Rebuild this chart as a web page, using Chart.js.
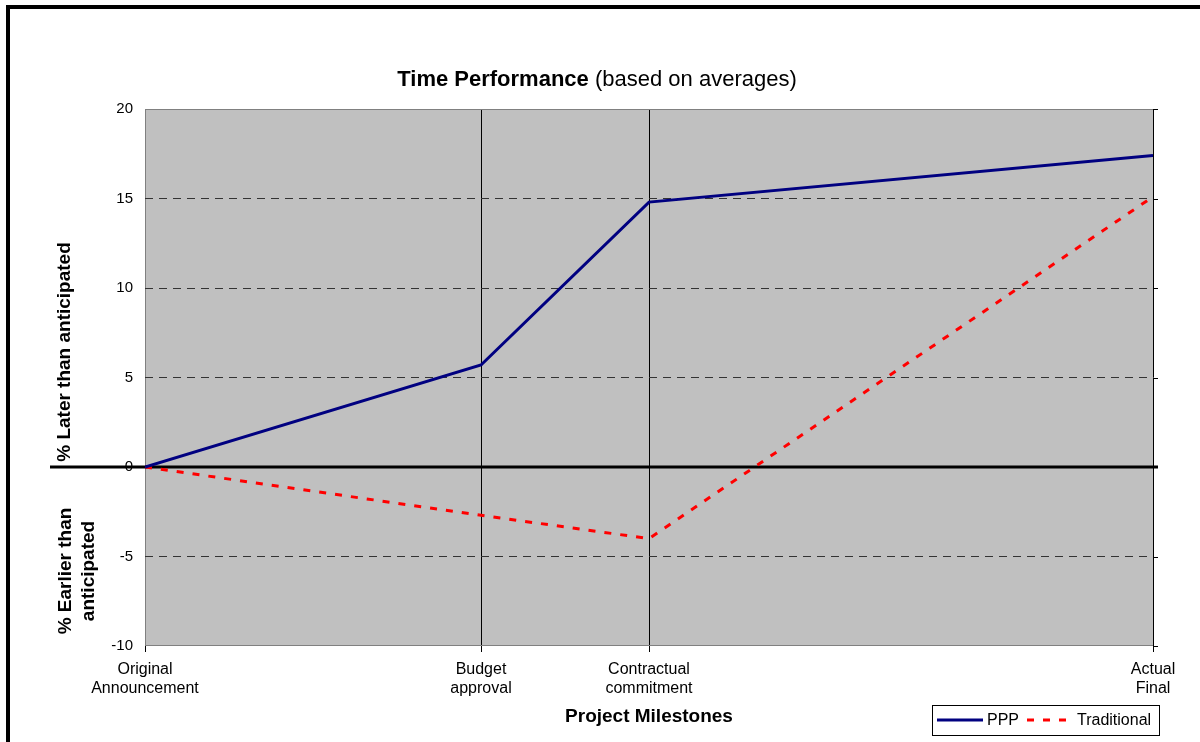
<!DOCTYPE html>
<html lang="en">
  <head>
    <meta charset="UTF-8" />
    <title>Time Performance</title>
    <style>
      body {
        margin: 0;
        background-color: white;
        overflow: hidden;
      }
      .chart-container {
        position: relative;
        width: 1200px;
        height: 742px;
      }
    </style>
    <script src="https://cdn.jsdelivr.net/npm/chart.js@4.4.0/dist/chart.umd.min.js"></script>
  </head>
  <body>
    <div class="chart-container">
      <canvas id="timeChart"></canvas>
    </div>

    <script>
      // Milestones (position along the project, label under the axis)
      const milestoneX = [0, 2, 3, 6];
      const milestoneLabels = [
        ["Original", "Announcement"],
        ["Budget", "approval"],
        ["Contractual", "commitment"],
        ["Actual", "Final"],
      ];
      // % later (+) / earlier (-) than anticipated
      const pppValues = [0, 5.7, 14.8, 17.4];
      const traditionalValues = [0, -2.7, -4.0, 15.1];
      const yTicks = [-10, -5, 0, 5, 10, 15, 20];

      const FONT = '"Liberation Sans", Arial, sans-serif';

      // plot background, frame, zero line
      const framePlugin = {
        id: "frame",
        beforeDraw(chart) {
          const { ctx, chartArea: a } = chart;
          ctx.save();
          ctx.fillStyle = "#c0c0c0";
          ctx.fillRect(a.left, a.top, a.right - a.left, a.bottom - a.top);
          // outer black border
          ctx.strokeStyle = "#000";
          ctx.lineWidth = 4;
          ctx.strokeRect(8, 7, chart.width + 20, chart.height + 20);
          ctx.restore();
        },
        beforeDatasetsDraw(chart) {
          const { ctx, chartArea: a, scales } = chart;
          ctx.save();
          ctx.strokeStyle = "#808080";
          ctx.lineWidth = 1;
          ctx.beginPath();
          ctx.moveTo(a.left, a.top + 0.5);
          ctx.lineTo(a.right, a.top + 0.5);
          ctx.moveTo(a.left, a.bottom - 0.5);
          ctx.lineTo(a.right, a.bottom - 0.5);
          ctx.stroke();
          // small ticks on the right edge
          ctx.strokeStyle = "#000";
          ctx.beginPath();
          scales.y.ticks.forEach((t) => {
            const y = Math.round(scales.y.getPixelForValue(t.value)) + 0.5;
            ctx.moveTo(a.right, y);
            ctx.lineTo(a.right + 5, y);
          });
          ctx.stroke();
          // zero line
          const y0 = scales.y.getPixelForValue(0);
          ctx.lineWidth = 3;
          ctx.beginPath();
          ctx.moveTo(50, y0);
          ctx.lineTo(a.right + 5, y0);
          ctx.stroke();
          ctx.restore();
        },
        afterDraw(chart) {
          const { ctx } = chart;
          ctx.save();
          // title
          ctx.fillStyle = "#000";
          ctx.textBaseline = "alphabetic";
          ctx.font = "bold 22px " + FONT;
          const t1 = "Time Performance";
          const w1 = ctx.measureText(t1).width;
          ctx.font = "22px " + FONT;
          const t2 = " (based on averages)";
          const w2 = ctx.measureText(t2).width;
          let x = 597 - (w1 + w2) / 2;
          ctx.font = "bold 22px " + FONT;
          ctx.textAlign = "left";
          ctx.fillText(t1, x, 86);
          ctx.font = "22px " + FONT;
          ctx.fillText(t2, x + w1, 86);

          // y axis titles
          ctx.font = "bold 19px " + FONT;
          ctx.textAlign = "center";
          ctx.textBaseline = "middle";
          ctx.save();
          ctx.translate(65, 352);
          ctx.rotate(-Math.PI / 2);
          ctx.fillText("% Later than anticipated", 0, 0);
          ctx.restore();
          ctx.save();
          ctx.translate(66, 571);
          ctx.rotate(-Math.PI / 2);
          ctx.fillText("% Earlier than", 0, 0);
          ctx.fillText("anticipated", 0, 23);
          ctx.restore();

          // legend
          const ds = chart.data.datasets;
          ctx.fillStyle = "#fff";
          ctx.fillRect(932, 705, 227, 30);
          ctx.strokeStyle = "#000";
          ctx.lineWidth = 1;
          ctx.strokeRect(932.5, 705.5, 227, 30);
          const ly = 720;
          ctx.lineWidth = 3;
          ctx.strokeStyle = ds[0].borderColor;
          ctx.beginPath();
          ctx.moveTo(937, ly);
          ctx.lineTo(983, ly);
          ctx.stroke();
          ctx.strokeStyle = ds[1].borderColor;
          ctx.setLineDash(ds[1].borderDash);
          ctx.beginPath();
          ctx.moveTo(1027, ly);
          ctx.lineTo(1072, ly);
          ctx.stroke();
          ctx.setLineDash([]);
          ctx.fillStyle = "#000";
          ctx.font = "16px " + FONT;
          ctx.textAlign = "left";
          ctx.fillText(ds[0].label, 987, ly + 1);
          ctx.fillText(ds[1].label, 1077, ly + 1);
          ctx.restore();
        },
      };

      const toPoints = (vals) => vals.map((v, i) => ({ x: milestoneX[i], y: v }));

      new Chart(document.getElementById("timeChart"), {
        type: "line",
        data: {
          datasets: [
            {
              label: "PPP",
              data: toPoints(pppValues),
              borderColor: "#000080",
              borderWidth: 3,
              pointRadius: 0,
              tension: 0,
            },
            {
              label: "Traditional",
              data: toPoints(traditionalValues),
              borderColor: "#ff0000",
              borderWidth: 3,
              borderDash: [7, 9],
              pointRadius: 0,
              tension: 0,
            },
          ],
        },
        options: {
          responsive: true,
          maintainAspectRatio: false,
          animation: false,
          layout: { padding: { left: 0, right: 47, top: 109, bottom: 0 } },
          plugins: {
            legend: { display: false },
            tooltip: { enabled: false },
          },
          scales: {
            x: {
              type: "linear",
              min: 0,
              max: 6,
              afterBuildTicks: (scale) => {
                scale.ticks = milestoneX.map((v) => ({ value: v }));
              },
              afterFit: (scale) => {
                scale.height = 96;
              },
              ticks: {
                color: "#000",
                font: { family: FONT, size: 16 },
                padding: 8,
                maxRotation: 0,
                autoSkip: false,
                callback: (v) => milestoneLabels[milestoneX.indexOf(v)],
              },
              grid: {
                color: (c) => (c.tick && c.tick.value === 0 ? "#808080" : "#000"),
                tickColor: "#000",
                tickLength: 6,
                lineWidth: 1,
              },
              border: { display: false },
              title: {
                display: true,
                text: "Project Milestones",
                color: "#000",
                font: { family: FONT, size: 19, weight: "bold" },
                padding: { top: 0, bottom: 14 },
              },
            },
            y: {
              min: -10,
              max: 20,
              afterBuildTicks: (scale) => {
                scale.ticks = yTicks.map((v) => ({ value: v }));
              },
              afterFit: (scale) => {
                scale.width = 145;
              },
              ticks: {
                color: "#000",
                font: { family: FONT, size: 15 },
                padding: 12,
              },
              grid: {
                color: (c) =>
                  c.tick && (c.tick.value === 0 || c.tick.value === 20 || c.tick.value === -10)
                    ? "rgba(0,0,0,0)"
                    : "#333",
                drawTicks: false,
                lineWidth: 1,
              },
              border: { display: false, dash: [8, 6] },
            },
          },
        },
        plugins: [framePlugin],
      });
    </script>
  </body>
</html>
